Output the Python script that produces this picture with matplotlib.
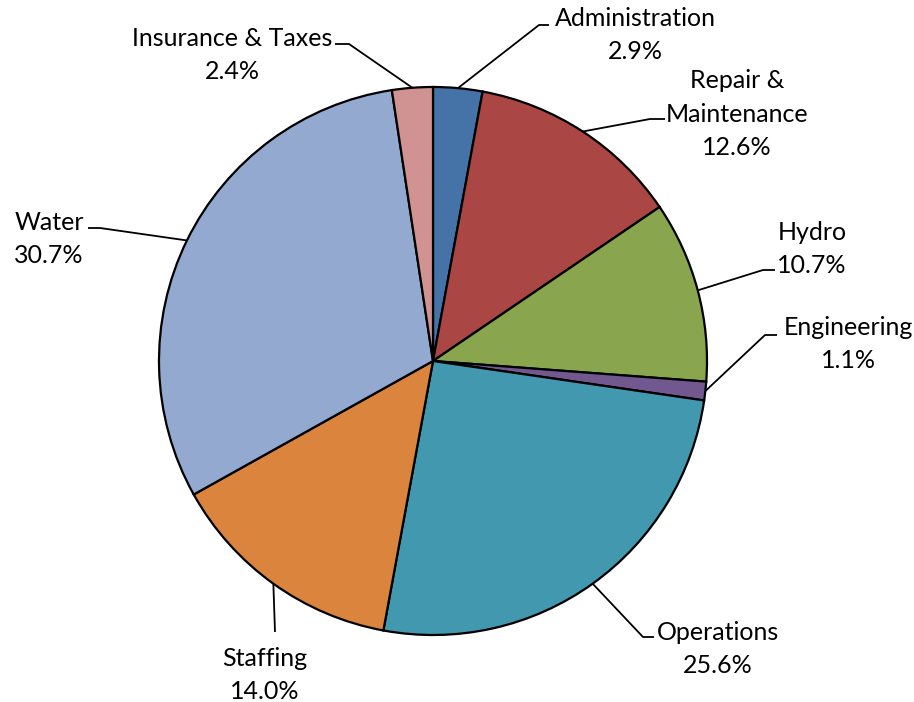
import numpy as np
import matplotlib
matplotlib.use("Agg")
import matplotlib.pyplot as plt

plt.rcParams['font.family'] = ['Lato', 'DejaVu Sans']

# data
categories = ["Administration", "Repair &\nMaintenance", "Hydro", "Engineering",
              "Operations", "Staffing", "Water", "Insurance & Taxes"]
shares = [2.9, 12.6, 10.7, 1.1, 25.6, 14.0, 30.7, 2.4]
colors = ["#4572A7", "#AA4643", "#89A54E", "#71588F",
          "#4198AF", "#DB843D", "#93A9CF", "#D19392"]

# layout, in pixels of the 914x702 picture
W, H = 914, 702
cx, cy, R = 433, 361, 274
# label centre, elbow point, end of the short horizontal run
label_px = [(635, 35), (737, 114), (812, 249), (848, 344),
            (718, 649), (265, 675), (49, 239), (232, 55)]
elbow_px = [(539, 25), (650, 119), (763, 270), (765, 335),
            (643, 637), (275, 632), (100, 228), (349, 44)]
end_px = [(549, 25), (665, 119), (775, 270), (777, 335),
          (654, 637), (275, 632), (88, 228), (335, 44)]


def to_data(p):
    return ((p[0] - cx) / R, (cy - p[1]) / R)


fig = plt.figure(figsize=(W / 100, H / 100), dpi=100)
ax = fig.add_axes([0, 0, 1, 1])
ax.pie(shares, colors=colors, startangle=90, counterclock=False, radius=1,
       wedgeprops=dict(edgecolor="black", linewidth=1.6))
ax.set_xlim(-cx / R, (W - cx) / R)
ax.set_ylim(-(H - cy) / R, cy / R)
ax.set_aspect("auto")
ax.axis("off")

cum = np.cumsum([0] + shares)
for i, (name, val) in enumerate(zip(categories, shares)):
    mid = np.deg2rad(90 - (cum[i] + val / 2) * 3.6)
    start = (np.cos(mid), np.sin(mid))
    ex, ey = to_data(elbow_px[i])
    fx, fy = to_data(end_px[i])
    ax.plot([start[0], ex, fx], [start[1], ey, fy], color="black", lw=1.3,
            solid_capstyle="butt")
    lx, ly = to_data(label_px[i])
    ax.text(lx, ly, f"{name}\n{val:.1f}%", ha="center", va="center",
            fontsize=18, linespacing=1.53, multialignment="center",
            color="black")

fig.savefig("out.png", dpi=100)
